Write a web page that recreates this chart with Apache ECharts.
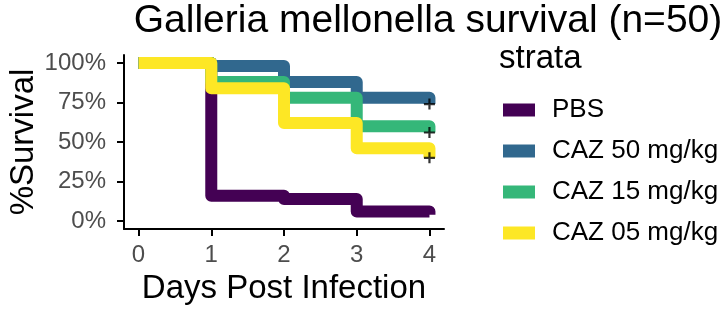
<!DOCTYPE html>
<html>
<head>
<meta charset="utf-8">
<script src="https://cdn.jsdelivr.net/npm/echarts@6/dist/echarts.min.js"></script>
<style>
  html, body { margin: 0; padding: 0; background: #fff; }
  #main { width: 724px; height: 310px; }
</style>
</head>
<body>
<div id="main"></div>
<script>
// data
const days = [0, 1, 2, 3, 4];
const xTicks = [0, 1, 2, 3, 4];
const yTicks = [0, 0.25, 0.5, 0.75, 1];
const strata = ["PBS", "CAZ 50 mg/kg", "CAZ 15 mg/kg", "CAZ 05 mg/kg"];
const pbs = [1, 0.16, 0.14, 0.06, 0.04];
const caz50 = [1, 0.98, 0.88, 0.78, 0.74];
const caz15 = [1, 0.88, 0.78, 0.60, 0.56];
const caz05 = [1, 0.84, 0.62, 0.46, 0.40];
// censored at end of study
const censorDay = 4;
const censorVals = [0.74, 0.56, 0.40];

const colors = ["#440154", "#31688E", "#35B779", "#FDE725"];
const font = "Liberation Sans";
const plus = "path://M4,0h2v4h4v2h-4v4h-2v-4h-4v-2h4z";

var chartDom = document.getElementById("main");
var myChart = echarts.init(chartDom);

const curves = [pbs, caz50, caz15, caz05];
const series = curves.map(function (vals, i) {
  return {
    name: strata[i],
    type: "line",
    step: "end",
    showSymbol: false,
    color: colors[i],
    lineStyle: { width: 12, color: colors[i], join: "round", cap: "butt" },
    data: days.map(function (d, k) { return [d, vals[k]]; }),
    z: 2 + i,
  };
});
series.push({
  type: "scatter",
  symbol: plus,
  symbolSize: 11,
  itemStyle: { color: "#000" },
  data: censorVals.map(function (v) { return [censorDay, v]; }),
  z: 10,
});

var option = {
  animation: false,
  textStyle: { fontFamily: font },
  title: [
    {
      text: "Galleria mellonella survival (n=50)",
      left: 423,
      top: -3,
      textAlign: "center",
      textStyle: { fontFamily: font, fontSize: 39, fontWeight: "normal", color: "#000" },
    },
    {
      text: "strata",
      left: 494,
      top: 37,
      textStyle: { fontFamily: font, fontSize: 33, fontWeight: "normal", color: "#000" },
    },
  ],
  legend: {
    data: strata,
    orient: "vertical",
    left: 498,
    top: 92,
    icon: "rect",
    itemWidth: 32,
    itemHeight: 13,
    itemGap: 15,
    selectedMode: false,
    textStyle: {
      fontFamily: font,
      fontSize: 26,
      lineHeight: 26,
      color: "#000",
      padding: [0, 0, 0, 12],
    },
  },
  grid: { left: 124, top: 55, width: 320, height: 176 },
  xAxis: {
    type: "value",
    min: -0.2,
    max: 4.2,
    name: "Days Post Infection",
    nameLocation: "middle",
    nameGap: 43,
    nameTextStyle: { fontFamily: font, fontSize: 33, color: "#000" },
    axisLine: { show: true, onZero: false, lineStyle: { color: "#000", width: 2 } },
    axisTick: { show: true, length: 7, lineStyle: { color: "#000", width: 2 }, customValues: xTicks },
    axisLabel: { fontFamily: font, fontSize: 24, color: "#4D4D4D", margin: 14, customValues: xTicks },
    splitLine: { show: false },
  },
  yAxis: {
    type: "value",
    min: -0.05,
    max: 1.05,
    name: "%Survival",
    nameLocation: "middle",
    nameRotate: 90,
    nameGap: 80,
    nameTextStyle: { fontFamily: font, fontSize: 33, color: "#000" },
    axisLine: { show: true, onZero: false, lineStyle: { color: "#000", width: 2 } },
    axisTick: { show: true, length: 7, lineStyle: { color: "#000", width: 2 }, customValues: yTicks },
    axisLabel: {
      fontFamily: font,
      fontSize: 24,
      color: "#4D4D4D",
      margin: 18,
      customValues: yTicks,
      formatter: function (v) { return Math.round(v * 100) + "%"; },
    },
    splitLine: { show: false },
  },
  series: series,
};

option && myChart.setOption(option, true);
</script>
</body>
</html>
